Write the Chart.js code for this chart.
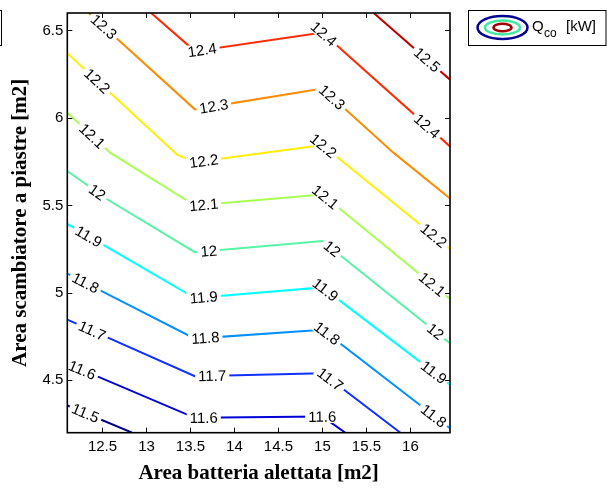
<!DOCTYPE html>
<html>
<head>
<meta charset="utf-8">
<script src="https://cdn.jsdelivr.net/npm/chart.js@4.4.1/dist/chart.umd.min.js"></script>
<style>
  html, body { margin: 0; padding: 0; background: #fff; }
</style>
</head>
<body>
<canvas id="chart" width="607" height="488"></canvas>
<script>
// contour levels of Q_co [kW]
const levels = [11.5, 11.6, 11.7, 11.8, 11.9, 12, 12.1, 12.2, 12.3, 12.4, 12.5];
const xTicks = [12.5, 13, 13.5, 14, 14.5, 15, 15.5, 16];
const yTicks = [4.5, 5, 5.5, 6, 6.5];

// contour polylines: x = area batteria, y = area scambiatore
const x_11_5 = [12.1, 12.837];
const y_11_5 = [4.356, 4.2];
const x_11_6 = [12.1, 13.55, 15.0, 15.261];
const y_11_6 = [4.595, 4.285, 4.292, 4.2];
const x_11_7 = [12.1, 13.55, 15.0, 15.886];
const y_11_7 = [4.847, 4.523, 4.540, 4.2];
const x_11_8 = [12.1, 13.55, 15.0, 16.45];
const y_11_8 = [5.110, 4.738, 4.789, 4.225];
const x_11_9 = [12.1, 13.55, 15.0, 16.45];
const y_11_9 = [5.394, 4.970, 5.031, 4.475];
const x_12_0 = [12.1, 12.553, 13.55, 15.0, 16.45];
const y_12_0 = [5.696, 5.535, 5.232, 5.296, 4.712];
const x_12_1 = [12.1, 12.591, 13.55, 15.0, 16.45];
const y_12_1 = [6.030, 5.8, 5.499, 5.562, 4.965];
const x_12_2 = [12.1, 13.352, 13.55, 15.0, 16.45];
const y_12_2 = [6.370, 5.788, 5.747, 5.845, 5.252];
const x_12_3 = [12.344, 13.55, 15.0, 15.81, 16.45];
const y_12_3 = [6.6, 6.049, 6.168, 5.8, 5.539];
const x_12_4 = [13.053, 13.55, 15.0, 16.45];
const y_12_4 = [6.6, 6.382, 6.488, 5.837];
const x_12_5 = [15.583, 16.45];
const y_12_5 = [6.6, 6.219];

// where the level labels sit along each line (x value)
const lab_11_5 = [12.307];
const lab_11_6 = [12.269, 13.651, 14.997];
const lab_11_7 = [12.383, 13.747, 15.09];
const lab_11_8 = [12.307, 13.67, 15.053, 16.265];
const lab_11_9 = [12.344, 13.651, 15.034, 16.265];
const lab_12_0 = [12.44, 13.708, 15.11, 16.284];
const lab_12_1 = [12.383, 13.651, 15.034, 16.247];
const lab_12_2 = [12.44, 13.651, 15.01, 16.265];
const lab_12_3 = [12.515, 13.765, 15.11];
const lab_12_4 = [13.633, 15.015, 16.19];
const lab_12_5 = [16.19];

const contourX = [x_11_5, x_11_6, x_11_7, x_11_8, x_11_9, x_12_0, x_12_1, x_12_2, x_12_3, x_12_4, x_12_5];
const contourY = [y_11_5, y_11_6, y_11_7, y_11_8, y_11_9, y_12_0, y_12_1, y_12_2, y_12_3, y_12_4, y_12_5];
const labelX = [lab_11_5, lab_11_6, lab_11_7, lab_11_8, lab_11_9, lab_12_0, lab_12_1, lab_12_2, lab_12_3, lab_12_4, lab_12_5];

const colors = ["#000088", "#0000d8", "#1030ff", "#0090ff", "#00ffff", "#55f5a5",
                "#a8ff50", "#ffee00", "#ff8c00", "#ff2a00", "#c00000"];

const sans = '"Liberation Sans", Arial, sans-serif';
const serif = '"Liberation Serif", "Times New Roman", serif';

const datasets = levels.map((lv, i) => ({
  label: String(lv),
  data: contourX[i].map((x, j) => ({ x: x, y: contourY[i][j] })),
  showLine: true,
  borderColor: colors[i],
  borderWidth: 2,
  pointRadius: 0,
  tension: 0,
  fill: false
}));

// clabel-like text on the lines
const contourLabels = {
  id: "contourLabels",
  afterDatasetsDraw(chart) {
    const { ctx, chartArea: a, scales: { x, y } } = chart;
    ctx.save();
    ctx.beginPath();
    ctx.rect(a.left, a.top, a.right - a.left, a.bottom - a.top);
    ctx.clip();
    ctx.font = "15px " + sans;
    ctx.textAlign = "center";
    ctx.textBaseline = "middle";
    levels.forEach((lv, i) => {
      const xs = contourX[i], ys = contourY[i];
      labelX[i].forEach(lx => {
        let k = 0;
        while (k < xs.length - 2 && lx > xs[k + 1]) k++;
        const t = (lx - xs[k]) / (xs[k + 1] - xs[k]);
        const ly = ys[k] + t * (ys[k + 1] - ys[k]);
        const px = x.getPixelForValue(lx), py = y.getPixelForValue(ly);
        const ang = Math.atan2(
          y.getPixelForValue(ys[k + 1]) - y.getPixelForValue(ys[k]),
          x.getPixelForValue(xs[k + 1]) - x.getPixelForValue(xs[k]));
        const txt = String(lv);
        const w = ctx.measureText(txt).width;
        ctx.save();
        ctx.translate(px, py);
        ctx.rotate(ang);
        ctx.fillStyle = "#fff";
        ctx.fillRect(-w / 2 - 3, -6.5, w + 6, 13);
        ctx.fillStyle = "#000";
        ctx.fillText(txt, 0, 1);
        ctx.restore();
      });
    });
    ctx.restore();
  }
};

// box, inward ticks and the legend
const frame = {
  id: "frame",
  afterDraw(chart) {
    const { ctx, chartArea: a, scales: { x, y } } = chart;
    ctx.save();
    ctx.strokeStyle = "#000";
    ctx.lineWidth = 1;
    ctx.beginPath();
    xTicks.forEach(v => {
      const px = Math.round(x.getPixelForValue(v)) + 0.5;
      ctx.moveTo(px, a.bottom); ctx.lineTo(px, a.bottom - 5);
      ctx.moveTo(px, a.top); ctx.lineTo(px, a.top + 5);
    });
    yTicks.forEach(v => {
      const py = Math.round(y.getPixelForValue(v)) + 0.5;
      ctx.moveTo(a.left, py); ctx.lineTo(a.left + 5, py);
      ctx.moveTo(a.right, py); ctx.lineTo(a.right - 5, py);
    });
    ctx.stroke();
    ctx.lineWidth = 1.6;
    ctx.strokeRect(a.left, a.top, a.right - a.left, a.bottom - a.top);

    // bit of the neighbouring legend box at the left edge
    ctx.lineWidth = 1;
    ctx.strokeRect(-20, 10.5, 21.5, 35);

    // legend
    ctx.strokeRect(468.5, 10.5, 137.5, 35);
    const cx = 502.5, cy = 27.5;
    ctx.lineWidth = 2.5;
    [[25, 11.5, "#000090"], [17.5, 7, "#40e8a0"], [9, 3.8, "#a00000"]].forEach(e => {
      ctx.strokeStyle = e[2];
      ctx.beginPath();
      ctx.ellipse(cx, cy, e[0], e[1], 0, 0, Math.PI * 2);
      ctx.stroke();
    });
    ctx.fillStyle = "#000";
    ctx.textBaseline = "alphabetic";
    ctx.textAlign = "left";
    ctx.font = "15px " + sans;
    ctx.fillText("Q", 532, 31);
    ctx.font = "12px " + sans;
    ctx.fillText("co", 544, 37);
    ctx.font = "15px " + sans;
    ctx.fillText("[kW]", 566, 31);
    ctx.restore();
  }
};

new Chart(document.getElementById("chart"), {
  type: "scatter",
  data: { datasets: datasets },
  options: {
    responsive: false,
    animation: false,
    layout: { padding: { left: 0, top: 9.3, right: 157, bottom: 0 } },
    plugins: { legend: { display: false }, tooltip: { enabled: false } },
    scales: {
      x: {
        type: "linear",
        min: 12.1,
        max: 16.45,
        afterBuildTicks: s => { s.ticks = xTicks.map(v => ({ value: v })); },
        afterFit: s => { s.height = 55.3; },
        grid: { display: false, drawTicks: false, tickLength: 0 },
        border: { display: false },
        ticks: { color: "#000", font: { family: sans, size: 15 }, padding: 5,
                 maxRotation: 0, autoSkip: false, callback: v => String(v) },
        title: { display: true, text: "Area batteria alettata [m2]", color: "#000",
                 font: { family: serif, size: 21, weight: "bold" }, padding: { top: 0, bottom: 2 } }
      },
      y: {
        type: "linear",
        min: 4.2,
        max: 6.6,
        afterBuildTicks: s => { s.ticks = yTicks.map(v => ({ value: v })); },
        afterFit: s => { s.width = 67.3; },
        grid: { display: false, drawTicks: false, tickLength: 0 },
        border: { display: false },
        ticks: { color: "#000", font: { family: sans, size: 15 }, padding: 4,
                 autoSkip: false, callback: v => String(v) },
        title: { display: true, text: "Area scambiatore a piastre [m2]", color: "#000",
                 font: { family: serif, size: 21, weight: "bold" }, padding: { top: 8, bottom: 0 } }
      }
    }
  },
  plugins: [contourLabels, frame]
});
</script>
</body>
</html>
